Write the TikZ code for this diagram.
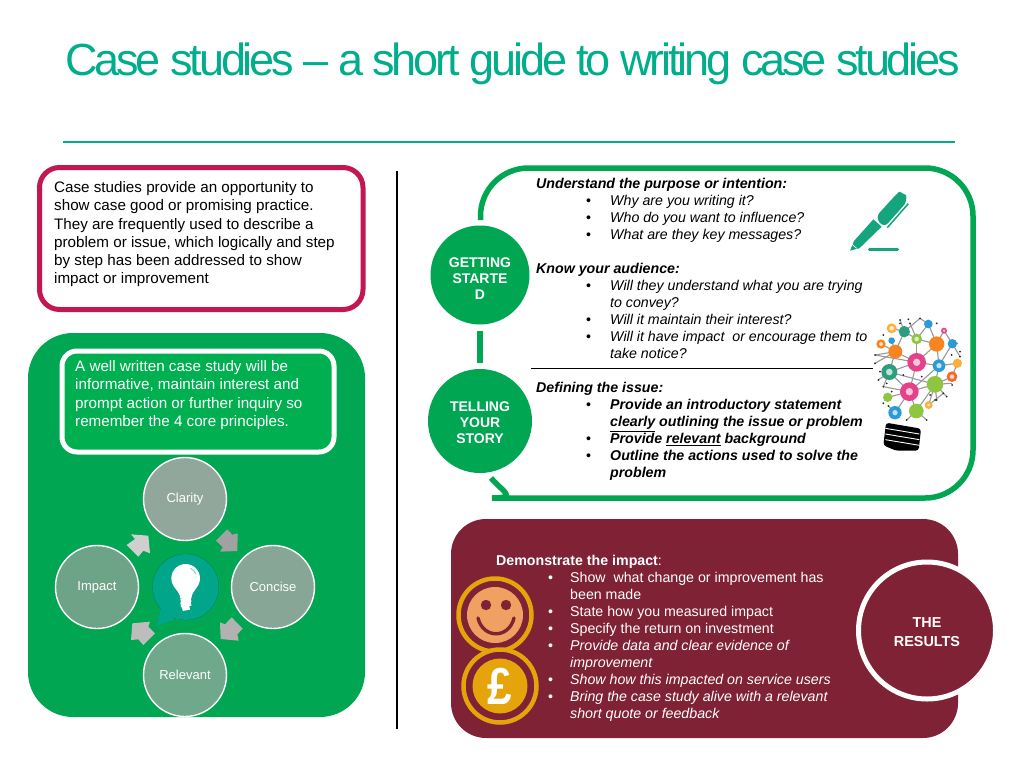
\documentclass[tikz,border=0pt]{standalone}
\usepackage{fontspec}
\setmainfont{Liberation Sans}
\newfontfamily\titlefont[LetterSpace=-6.9]{Liberation Sans}
\definecolor{teal1}{HTML}{00AE8C}
\definecolor{grn}{HTML}{00A651}
\definecolor{grn2}{HTML}{00B050}
\definecolor{crim}{HTML}{C2184F}
\definecolor{maro}{HTML}{7F2235}
\definecolor{gold}{HTML}{E5A50A}
\definecolor{face}{HTML}{F0A060}
\definecolor{bub}{HTML}{00A58A}
\definecolor{pen}{HTML}{14A57F}
\definecolor{cClarity}{HTML}{92A79C}
\definecolor{cConcise}{HTML}{87A695}
\definecolor{cRelevant}{HTML}{6FA88A}
\definecolor{cImpact}{HTML}{6DA386}
\definecolor{nBlue}{HTML}{2B9BD7}
\definecolor{nOrange}{HTML}{F7841E}
\definecolor{nPink}{HTML}{E6428B}
\definecolor{nTeal}{HTML}{2C9E7E}
\definecolor{nGreen}{HTML}{8EC63F}
\definecolor{nGold}{HTML}{FBB03B}
\definecolor{nRed}{HTML}{F26A2A}
\newcommand\bl{\hspace*{50pt}\makebox[24pt][l]{•}}
\newcommand\ct{\hspace*{74pt}}
\newcommand\blb{\hspace*{52pt}\makebox[22pt][l]{•}}
\tikzset{
  blocktext/.style={anchor=north west,inner sep=0pt,align=left,font=\fontsize{14.2}{17}\selectfont},
  leftpara/.style={anchor=north west,inner sep=0pt,align=left,font=\fontsize{15.2}{18.25}\selectfont},
  stagecircle/.style={circle,fill=grn,text=white,align=center,inner sep=0pt,font=\fontsize{14}{16}\selectfont\bfseries},
  cyclenode/.style={circle,draw=white,line width=1.4pt,minimum size=83pt,inner sep=0pt,text=white,font=\fontsize{13}{14}\selectfont},
  ring/.style={circle,draw=gold,line width=4.5pt,fill=maro,minimum size=73pt,inner sep=0pt},
}
\begin{document}
\begin{tikzpicture}[x=1pt,y=-1pt]
\useasboundingbox (0,0) rectangle (1024,768);
\fill[white] (0,0) rectangle (1024,768);
% title
\node[anchor=base west,inner sep=0pt,text=teal1,font=\fontsize{45}{48}\selectfont\titlefont] (title) at (65,75) {Case studies – a short guide to writing case studies};
\coordinate (ruleL) at (63,142); \coordinate (ruleR) at (955,142);
\draw[teal1,line width=1.3pt] (ruleL) -- (ruleR);
% divider
\coordinate (divT) at (397,171); \coordinate (divB) at (397,729);
\draw[black,line width=2.6pt] (divT) -- (divB);
% pink box
\draw[crim,line width=5pt,rounded corners=20pt] (39.5,167.5) rectangle (363,309.5);
\node[leftpara] (intro) at (54,181.3) {Case studies provide an opportunity to\\show case good or promising practice.\\They are frequently used to describe a\\problem or issue, which logically and step\\by step has been addressed to show\\impact or improvement};
% green panel
\fill[grn,rounded corners=45pt] (28,333) rectangle (365,717);
\draw[white,line width=5pt,fill=grn2,rounded corners=15pt] (62,351) rectangle (334,452);
\node[leftpara,text=white] (well) at (75,360.5) {A well written case study will be\\informative, maintain interest and\\prompt action or further inquiry so\\remember the 4 core principles.};
% cycle
\node[cyclenode,fill=cClarity] (clarity) at (185,499) {Clarity};
\node[cyclenode,fill=cConcise] (concise) at (273,587) {Concise};
\node[cyclenode,fill=cRelevant] (relevant) at (185,675) {Relevant};
\node[cyclenode,fill=cImpact] (impact) at (97,587) {Impact};
\begin{scope}[shift={(0,440)},scale=1/3]
\fill[black!37] (682,268) -- (697,284) -- (713,280) -- (712,333) -- (660,335) -- (668,322) -- (648,302) -- cycle;
\fill[black!30] (695,532) -- (728,566) -- (712,583) -- (716,602) -- (662,597) -- (660,547) -- (675,553) -- cycle;
\fill[black!26] (465,580) -- (430,615) -- (415,598) -- (393,600) -- (397,550) -- (450,545) -- (445,560) -- cycle;
\fill[black!19] (380,315) -- (415,350) -- (430,332) -- (450,340) -- (445,287) -- (393,283) -- (405,297) -- cycle;
\end{scope}
% speech bubble and bulb
\begin{scope}[shift={(140,545)},scale=1/3]
\draw[bub!70!black,line width=.5pt] (137,126) circle[radius=99];
\fill[bub] (137,126) circle[radius=98.5];
\fill[bub] (62,190) -- (52,243) -- (105,222) -- cycle;
\fill[white] (137,100) circle[radius=43];
\fill[white] (103,125) .. controls (112,140) and (120,145) .. (121,160) -- (154,160) .. controls (155,145) and (163,140) .. (171,125) -- cycle;
\draw[white,line width=5pt] (122,168) -- (153,163);
\draw[white,line width=5pt] (122,180) -- (153,175);
\draw[white,line width=4pt] (127,192) -- (149,188);
\draw[bub!50,line width=1pt] (152,70) .. controls (159,73) and (165,80) .. (168,88);
\end{scope}
% right frame
\coordinate (frameA) at (480.5,220);
\coordinate (frameB) at (491,478);
\draw[grn,line width=5.5pt,rounded corners=48pt] (frameA) -- (480.5,168) -- (973,168) -- (973,498) -- (540,498) [sharp corners] .. controls (518,498) and (503,492) .. (frameB);
% stage circles
\node[stagecircle,minimum size=99pt] (gs) at (480,275) {\rule{0pt}{16pt}GETTING\\STARTE\\D};
\node[stagecircle,minimum size=104pt] (ts) at (480,421) {\rule{0pt}{13pt}TELLING\\YOUR\\STORY};
\draw[grn,line width=6pt,shorten <=6pt,shorten >=6pt] (gs) -- (ts);
\coordinate (sepL) at (531,368.5); \coordinate (sepR) at (873,368.5);
\draw[black,line width=.9pt] (sepL) -- (sepR);
% text right
\node[blocktext] (purpose) at (536,178) {\textbf{\textit{Understand the purpose or intention:}}\\
\bl\textit{Why are you writing it?}\\
\bl\textit{Who do you want to influence?}\\
\bl\textit{What are they key messages?}\\
\mbox{}\\
\textbf{\textit{Know your audience:}}\\
\bl\textit{Will they understand what you are trying}\\
\ct\textit{to convey?}\\
\bl\textit{Will it maintain their interest?}\\
\bl\textit{Will it have impact\ \ or encourage them to}\\
\ct\textit{take notice?}};
\node[blocktext] (issue) at (536,382) {\textbf{\textit{Defining the issue:}}\\
\bl\textbf{\textit{Provide an introductory statement}}\\
\ct\textbf{\textit{\underline{clearly} outlining the issue or problem}}\\
\bl\textbf{\textit{Provide \underline{relevant} background}}\\
\bl\textbf{\textit{Outline the actions used to solve the}}\\
\ct\textbf{\textit{problem}}};
% pen
\begin{scope}[shift={(840,185)},scale=1/3]
\fill[pen] (42,168) -- (100,103) -- (125,125) -- (58,190) -- (30,197) -- cycle;
\fill[pen,rounded corners=6pt] (106,97) -- (165,32) .. controls (178,20) and (198,30) .. (203,48) -- (132,128) -- cycle;
\draw[pen,line width=1.5pt,line join=round] (205,56) -- (142,128);
\draw[white,line width=.7pt] (36,178) -- (50,190);
\draw[pen,line width=2.7pt,line cap=round] (88,194) -- (173,194);
\end{scope}
% network bulb
\begin{scope}[shift={(820,170)},scale=1/3]
\foreach \a/\b/\c/\d in {215/475/253/485,253/485/290/507,253/485/226/545,290/507/350/522,325/462/350/522,372/482/350/522,183/522/226/545,215/512/226/545,226/545/290/577,290/507/290/577,350/522/290/577,397/521/357/587,350/522/357/587,412/580/357/587,290/577/357/587,290/577/208/606,208/606/268/665,290/577/268/665,357/587/345/643,396/620/345/643,345/643/268/665,268/665/203/682,268/665/225/728,268/665/289/723,345/643/326/705,345/643/289/723,226/545/208/606,165/555/226/545,240/450/253/485,300/445/325/462,270/460/290/507,420/560/397/521,380/680/345/643,190/650/268/665,320/750/289/723,208/606/175/630,350/690/345/643,396/640/345/643,165/555/290/577,208/606/345/643,253/485/300/445,325/462/290/507,372/482/397/521,268/665/357/587,226/545/165/580,208/606/190/650,225/728/205/708,289/723/260/750,326/705/370/670,412/580/396/620}
  \draw[black!40,line width=1.1pt] (\a,\b) -- (\c,\d);
\foreach \a/\b in {165/555,165/580,240/450,265/448,300/445,270/460,420/560,380/680,190/650,320/750,175/630,350/690,396/645,240/460,350/460,190/495,180/605,420/545,215/665,305/620,250/615,395/555,330/675,205/708,260/750,370/670,345/690,190/700,200/640,410/520}
  \fill[black!85] (\a,\b) circle[radius=3];
\foreach \a/\b/\r/\c in {215/475/15/nGold,253/485/17/nTeal,325/462/13/nBlue,372/482/9/nPink,183/522/14/nOrange,215/512/10/nBlue,290/507/16/nGreen,350/522/23/nOrange,397/521/14/nBlue,226/545/21/nOrange,290/577/28/nPink,357/587/19/nBlue,412/580/14/nGold,208/606/24/nTeal,396/620/16/nRed,345/643/25/nGreen,268/665/28/nPink,203/682/14/nGreen,326/705/12/nGold,225/728/20/nBlue,289/723/22/nGreen}
  \fill[\c] (\a,\b) circle[radius=\r];
\foreach \a/\b/\r in {215/475/7,183/522/6,372/482/4,290/577/11,268/665/11,208/606/10,225/728/8,357/587/8,290/507/7,396/620/7,326/705/5}
  \fill[white,opacity=.7] (\a,\b) circle[radius=\r];
\fill[black,rounded corners=3pt] (198,758) -- (303,776) -- (296,842) -- (228,842) -- (190,826) -- cycle;
\foreach \y in {775,792,809}
  \draw[white,line width=.9pt] (196,\y) -- (298,\y+17);
\end{scope}
% bottom panel
\fill[maro,rounded corners=35pt] (451,519) rectangle (958,738);
\node[circle,fill=maro,draw=white,line width=5pt,minimum size=137pt,inner sep=0pt,align=center,text=white,font=\fontsize{14.4}{19}\selectfont\bfseries] (results) at (927,630.5) {\rule{0pt}{14pt}THE\\RESULTS};
\node[blocktext,text=white] (demo) at (496,555) {\textbf{Demonstrate the impact}:\\
\hspace*{52pt}\makebox[22pt][l]{•}Show\ \ what change or improvement has\\
\hspace*{74pt}been made\\
\blb State how you measured impact\\
\blb Specify the return on investment\\
\blb\textit{Provide data and clear evidence of}\\
\hspace*{74pt}\textit{improvement}\\
\blb\textit{Show how this impacted on service users}\\
\blb\textit{Bring the case study alive with a relevant}\\
\hspace*{74pt}\textit{short quote or feedback}};
% smiley
\node[ring] (smileRing) at (495,615) {};
\node[circle,fill=face,minimum size=56pt,inner sep=0pt] (smile) at (495,615) {};
\fill[maro] (486,605) circle[radius=5.2];
\fill[maro] (506,605) circle[radius=5.2];
\draw[maro,line width=3.4pt,line cap=round] (478,618) .. controls (483,639) and (509,639) .. (514,618);
\node[ring] (poundRing) at (500,686) {};
\node[circle,fill=gold,minimum size=55pt,inner sep=0pt,text=white,font=\fontsize{52}{54}\selectfont\bfseries] (pound) at (500,686) {\scalebox{.85}[1]{£}};
\end{tikzpicture}
\end{document}
